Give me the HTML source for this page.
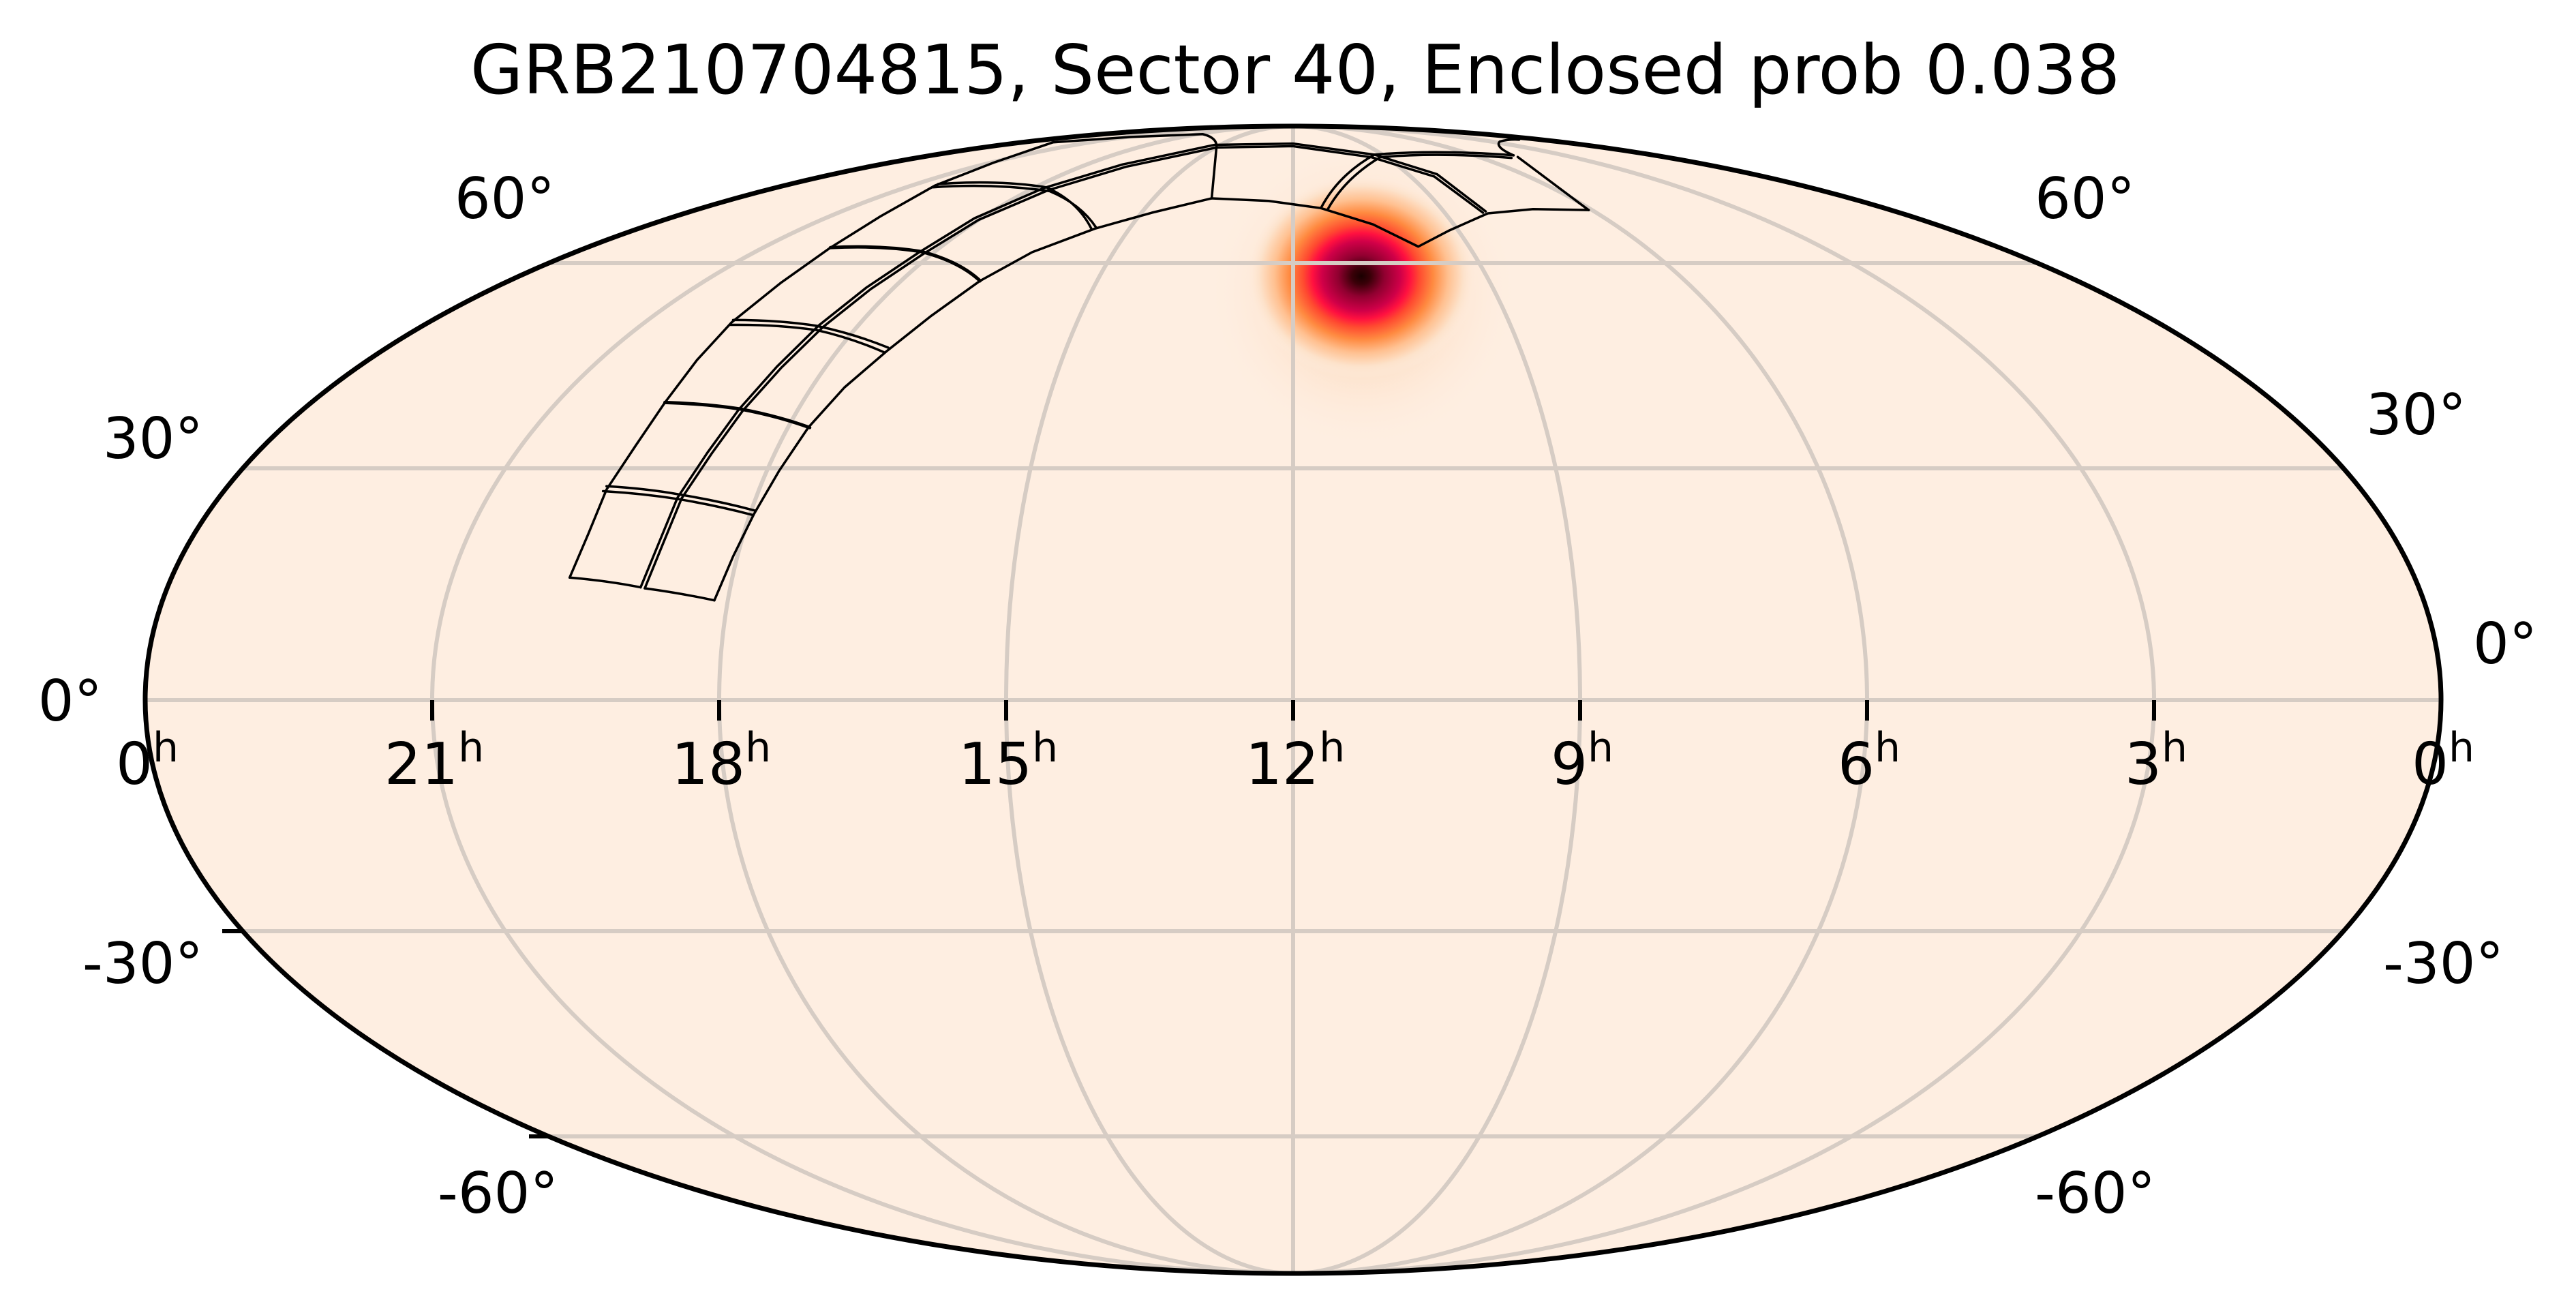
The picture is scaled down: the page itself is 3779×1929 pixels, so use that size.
<!DOCTYPE html>
<html><head><meta charset="utf-8"><style>
html,body{margin:0;padding:0;background:#fff;}
svg{display:block;}
text{font-family:"DejaVu Sans","Liberation Sans",sans-serif;fill:#000;}
</style></head><body>
<svg width="3779" height="1929" viewBox="0 0 3779 1929" xmlns="http://www.w3.org/2000/svg">
<defs>
<radialGradient id="g">
<stop offset="0" stop-color="#1a0000"/>
<stop offset="0.08" stop-color="#3a0008"/>
<stop offset="0.2" stop-color="#900030"/>
<stop offset="0.34" stop-color="#d00048"/>
<stop offset="0.42" stop-color="#ff1040"/>
<stop offset="0.5" stop-color="#ff4a30"/>
<stop offset="0.62" stop-color="#ff8a40"/>
<stop offset="0.75" stop-color="#ffc090"/>
<stop offset="0.88" stop-color="#fde2ca"/>
<stop offset="1" stop-color="#feeee1" stop-opacity="0"/>
</radialGradient>
<radialGradient id="h">
<stop offset="0" stop-color="#fdd9bc"/>
<stop offset="0.5" stop-color="#fde3cd"/>
<stop offset="1" stop-color="#feeee1" stop-opacity="0"/>
</radialGradient>
<clipPath id="c"><ellipse cx="1897" cy="1026.5" rx="1684" ry="841.5"/></clipPath>
</defs>
<ellipse cx="1897" cy="1026.5" rx="1684" ry="841.5" fill="#feeee1"/>
<g clip-path="url(#c)">
<ellipse cx="2000" cy="430" rx="230" ry="230" fill="url(#h)"/>
<ellipse cx="1997" cy="405" rx="170" ry="150" fill="url(#g)"/>
<g fill="none" stroke="#d6ccc4" stroke-width="6">
<path d="M1897,185 A421,841.5 0 0 0 1897,1868"/>
<path d="M1897,185 A421,841.5 0 0 1 1897,1868"/>
<path d="M1897,185 A842,841.5 0 0 0 1897,1868"/>
<path d="M1897,185 A842,841.5 0 0 1 1897,1868"/>
<path d="M1897,185 A1263,841.5 0 0 0 1897,1868"/>
<path d="M1897,185 A1263,841.5 0 0 1 1897,1868"/>
<path d="M1897,185 L1897,1868"/>
<path d="M213,1027 L3581,1027"/>
<path d="M356,687 L3438,687"/>
<path d="M356,1366 L3438,1366"/>
<path d="M807,386 L2987,386"/>
<path d="M807,1667 L2987,1667"/>
</g>
</g>
<g fill="none" stroke="#000" stroke-width="3.5" stroke-linejoin="round" stroke-linecap="round" transform="translate(800,180) scale(1.0204,0.4783)">
<path vector-effect="non-scaling-stroke" d="M35,1395 L62,1260 L88,1125 L130,990 L172,858 L218,728 L268,612 L338,492 L410,383 L482,287 L560,193 L645,122 L730,60"/>
<path vector-effect="non-scaling-stroke" d="M730,60 L840,44 L945,35 Q965,45 965,72 L958,232"/>
<path vector-effect="non-scaling-stroke" d="M137,1425 L163,1290 L190,1150 L233,1012 L278,880 L333,748 L393,622 L462,505 L537,398 L617,293 L717,200 L830,128 L962,68 L1075,64 L1192,98 L1282,158 L1352,272"/>
<path vector-effect="non-scaling-stroke" d="M143,1428 L169,1292 L196,1152 L239,1015 L284,883 L339,752 L399,627 L468,510 L543,403 L623,298 L723,207 L835,135 L965,76 L1075,72 L1188,106 L1278,165 L1348,276"/>
<path vector-effect="non-scaling-stroke" d="M243,1465 L270,1330 L300,1200 L336,1068 L378,935 L430,812 L490,702 L555,592 L625,485 L700,397 L790,325 L872,276 L958,232 L1040,240 L1115,262 L1190,312 L1255,380 L1300,330 L1355,278 L1420,265 L1500,268"/>
<path vector-effect="non-scaling-stroke" d="M35,1395 Q90,1405 137,1425 M143,1428 Q195,1443 243,1465"/>
<path vector-effect="non-scaling-stroke" d="M88,1115 Q145,1122 192,1140 Q250,1160 302,1190"/>
<path vector-effect="non-scaling-stroke" d="M83,1130 Q140,1137 193,1155 Q248,1175 298,1203"/>
<path vector-effect="non-scaling-stroke" stroke-width="5" d="M172,858 Q230,862 280,878 Q335,900 380,935"/>
<path vector-effect="non-scaling-stroke" d="M270,605 Q335,605 390,623 Q445,648 493,690"/>
<path vector-effect="non-scaling-stroke" d="M265,620 Q330,618 390,636 Q440,660 488,705"/>
<path vector-effect="non-scaling-stroke" stroke-width="5" d="M410,383 Q480,375 540,395 Q595,425 625,485"/>
<path vector-effect="non-scaling-stroke" d="M565,188 Q650,175 720,198 Q765,240 785,325"/>
<path vector-effect="non-scaling-stroke" d="M557,198 Q645,185 725,210 Q770,250 792,322"/>
<path vector-effect="non-scaling-stroke" d="M1115,262 Q1140,160 1192,98"/>
<path vector-effect="non-scaling-stroke" d="M1125,265 Q1150,170 1200,106"/>
<path vector-effect="non-scaling-stroke" d="M1192,98 Q1280,82 1392,100"/>
<path vector-effect="non-scaling-stroke" d="M1200,106 Q1280,90 1389,108"/>
<path vector-effect="non-scaling-stroke" d="M1392,100 Q1365,75 1372,58 Q1385,50 1400,52"/>
<path vector-effect="non-scaling-stroke" d="M1398,105 L1500,268"/>
</g>
<ellipse cx="1897" cy="1026.5" rx="1684" ry="841.5" fill="none" stroke="#000" stroke-width="7"/>
<g stroke="#000" stroke-width="6">
<path d="M634,1027 V1057 M1055,1027 V1057 M1476,1027 V1057 M1897,1027 V1057 M2318,1027 V1057 M2739,1027 V1057 M3160,1027 V1057"/>
<path d="M326,1366 H357 M776,1667 H807"/>
</g>
<text x="1900" y="137" font-size="100" text-anchor="middle">GRB210704815, Sector 40, Enclosed prob 0.038</text>
<g font-size="85" text-anchor="middle">
<text x="216" y="1150">0<tspan font-size="60" dy="-33">h</tspan></text>
<text x="637" y="1150">21<tspan font-size="60" dy="-33">h</tspan></text>
<text x="1058" y="1150">18<tspan font-size="60" dy="-33">h</tspan></text>
<text x="1479" y="1150">15<tspan font-size="60" dy="-33">h</tspan></text>
<text x="1900" y="1150">12<tspan font-size="60" dy="-33">h</tspan></text>
<text x="2321" y="1150">9<tspan font-size="60" dy="-33">h</tspan></text>
<text x="2742" y="1150">6<tspan font-size="60" dy="-33">h</tspan></text>
<text x="3163" y="1150">3<tspan font-size="60" dy="-33">h</tspan></text>
<text x="3584" y="1150">0<tspan font-size="60" dy="-33">h</tspan></text>
</g>
<g font-size="83" text-anchor="end">
<text x="814" y="320">60°</text>
<text x="298" y="672">30°</text>
<text x="150" y="1057">0°</text>
<text x="298" y="1442">-30°</text>
<text x="819" y="1779">-60°</text>
</g>
<g font-size="83" text-anchor="start">
<text x="2985" y="320">60°</text>
<text x="3471" y="637">30°</text>
<text x="3628" y="973">0°</text>
<text x="3496" y="1442">-30°</text>
<text x="2985" y="1779">-60°</text>
</g>
</svg>
</body></html>
